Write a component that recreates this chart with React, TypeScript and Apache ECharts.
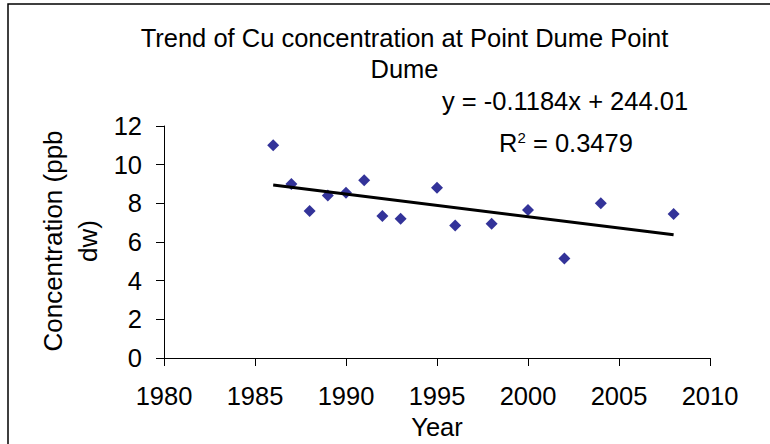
import React, { useEffect, useRef } from "react";
import * as echarts from "echarts";

const years = [1986, 1987, 1988, 1989, 1990, 1991, 1992, 1993, 1995, 1996, 1998, 2000, 2002, 2004, 2008];
const cu = [11.0, 9.0, 7.6, 8.4, 8.55, 9.2, 7.35, 7.2, 8.8, 6.85, 6.95, 7.65, 5.15, 8.0, 7.45];

const titleLines = ["Trend of Cu concentration at Point Dume Point", "Dume"];
const equationText = "y = -0.1184x + 244.01";
const r2Value = "0.3479";
const xAxisName = "Year";
const yAxisNameLines = ["Concentration (ppb", "dw)"];

const FONT = "'Liberation Sans', Arial, Helvetica, sans-serif";

function regression(xs: number[], ys: number[]) {
  const n = xs.length;
  const mx = xs.reduce((a, b) => a + b, 0) / n;
  const my = ys.reduce((a, b) => a + b, 0) / n;
  let sxy = 0;
  let sxx = 0;
  for (let i = 0; i < n; i++) {
    sxy += (xs[i] - mx) * (ys[i] - my);
    sxx += (xs[i] - mx) * (xs[i] - mx);
  }
  const slope = sxy / sxx;
  return { slope, intercept: my - slope * mx };
}

export default function App() {
  const ref = useRef<HTMLDivElement>(null);
  useEffect(() => {
    if (!ref.current) return;
    const chart = echarts.init(ref.current, null, { renderer: "svg" });
    const { slope, intercept } = regression(years, cu);
    const x0 = years[0];
    const x1 = years[years.length - 1];
    const trend = [
      [x0, slope * x0 + intercept],
      [x1, slope * x1 + intercept],
    ];
    chart.setOption({
      animation: false,
      backgroundColor: "#ffffff",
      grid: { left: 164, right: 60, top: 126, bottom: 86, containLabel: false, outerBoundsMode: "none" },
      xAxis: {
        type: "value",
        min: 1980,
        max: 2010,
        interval: 5,
        splitLine: { show: false },
        axisLine: { show: true, lineStyle: { color: "#000", width: 1 } },
        axisTick: { show: true, length: 8, lineStyle: { color: "#000", width: 1 } },
        axisLabel: {
          color: "#000",
          fontSize: 25.5,
          fontFamily: FONT,
          margin: 25,
          formatter: (v: number) => String(v),
        },
        name: xAxisName,
        nameLocation: "middle",
        nameGap: 54,
        nameTextStyle: { color: "#000", fontSize: 25.5, fontFamily: FONT },
      },
      yAxis: {
        type: "value",
        min: 0,
        max: 12,
        interval: 2,
        splitLine: { show: false },
        axisLine: { show: true, lineStyle: { color: "#000", width: 1 } },
        axisTick: { show: true, length: 8, lineStyle: { color: "#000", width: 1 } },
        axisLabel: {
          color: "#000",
          fontSize: 25.5,
          fontFamily: FONT,
          margin: 22,
          formatter: (v: number) => String(v),
        },
      },
      graphic: [
        {
          type: "rect",
          shape: { x: 8, y: 4, width: 900, height: 600 },
          style: { fill: "none", stroke: "#000", lineWidth: 1.5 },
          silent: true,
        },
        {
          type: "text",
          x: 404.5,
          y: 53.5,
          style: {
            text: titleLines.join("\n"),
            fontSize: 25.5,
            fontFamily: FONT,
            fill: "#000",
            align: "center",
            verticalAlign: "middle",
            lineHeight: 31,
          },
        },
        {
          type: "text",
          x: 565,
          y: 101,
          style: {
            text: equationText,
            fontSize: 25.5,
            fontFamily: FONT,
            fill: "#000",
            align: "center",
            verticalAlign: "middle",
          },
        },
        {
          type: "text",
          x: 566,
          y: 143,
          style: {
            text: "R{s|2} = " + r2Value,
            fontSize: 25.5,
            fontFamily: FONT,
            fill: "#000",
            align: "center",
            verticalAlign: "middle",
            rich: {
              s: { fontSize: 15, fontFamily: FONT, fill: "#000", verticalAlign: "top", lineHeight: 15 },
            },
          },
        },
        {
          type: "text",
          x: 70,
          y: 241,
          rotation: Math.PI / 2,
          style: {
            text: yAxisNameLines.join("\n"),
            fontSize: 26,
            fontFamily: FONT,
            fill: "#000",
            align: "center",
            verticalAlign: "middle",
            lineHeight: 35,
          },
        },
      ],
      series: [
        {
          type: "scatter",
          data: years.map((y, i) => [y, cu[i]]),
          symbol: "diamond",
          symbolSize: 12,
          itemStyle: { color: "#000080" },
          z: 2,
        },
        {
          type: "line",
          data: trend,
          showSymbol: false,
          symbol: "none",
          lineStyle: { color: "#000", width: 3 },
          z: 3,
        },
      ],
    });
    return () => chart.dispose();
  }, []);
  return (
    <div
      ref={ref}
      style={{ position: "absolute", left: 0, top: 0, width: 770, height: 444 }}
    />
  );
}
